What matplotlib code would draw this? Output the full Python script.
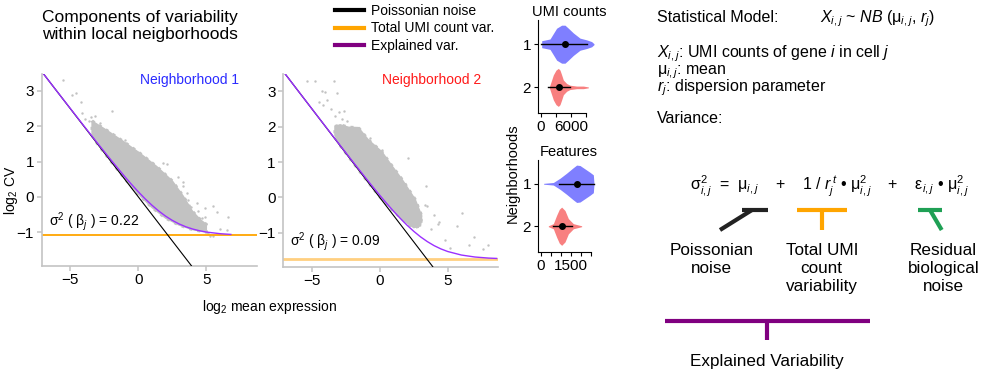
import matplotlib
matplotlib.use('Agg')
import matplotlib.pyplot as plt
import numpy as np
from matplotlib.lines import Line2D

plt.rcParams['font.family'] = ['Liberation Sans', 'DejaVu Sans']
plt.rcParams['mathtext.fontset'] = 'custom'
plt.rcParams['mathtext.rm'] = 'Liberation Sans'
plt.rcParams['mathtext.it'] = 'Liberation Sans:italic'
plt.rcParams['mathtext.default'] = 'regular'

# ---- data ----
# Poissonian noise line endpoints (log2 mean, log2 CV)
pois_x = [-7.1, 3.9]
pois_y = [3.55, -1.95]

# explained variance curves
curve_x1 = [-7.1, -6, -5, -4, -3, -2, -1, -0.5, 0, 0.5, 1, 1.5, 2, 2.5, 3, 3.5, 4, 4.5, 5, 6, 6.8]
curve_y1 = [3.55, 3.0, 2.505, 2.01, 1.52, 1.04, 0.575, 0.354, 0.143, -0.055, -0.237, -0.401,
            -0.545, -0.667, -0.768, -0.849, -0.912, -0.96, -0.997, -1.043, -1.064]
curve_x2 = [-7.1, -6, -5, -4, -3, -2, -1, -0.5, 0, 0.5, 1, 1.5, 2, 2.5, 3, 3.5, 4, 4.5, 5, 6, 7, 8, 8.6]
curve_y2 = [3.55, 3.0, 2.502, 2.004, 1.508, 1.016, 0.532, 0.294, 0.062, -0.164, -0.381, -0.586,
            -0.778, -0.953, -1.109, -1.243, -1.357, -1.449, -1.522, -1.621, -1.677, -1.707, -1.717]

umi_level = [-1.09, -1.74]
beta_var = ['0.22', '0.09']

# dense part of the gene cloud (upper edge left->right, lower edge right->left)
band1_xu = [-3.4, -3.0, -2.3, -1.1, 0.1, 1.35, 2.5, 3.3, 4.0, 4.6, 5.0]
band1_yu = [2.15, 2.05, 1.88, 1.57, 1.24, 0.86, 0.45, 0.02, -0.42, -0.66, -0.78]
band1_xl = [5.0, 4.0, 3.0, 2.0, 1.0, 0.0, -1.0, -2.0, -3.0, -3.4]
band1_yl = [-1.0, -0.93, -0.8, -0.6, -0.3, 0.08, 0.52, 1.0, 1.5, 1.75]

band2_xu = [-3.3, -2.92, -2.3, -1.57, -0.83, 0.15, 0.88, 1.62, 2.6, 3.09]
band2_yu = [2.0, 2.05, 1.98, 1.97, 1.62, 1.29, 0.9, 0.52, -0.05, -0.52]
band2_xl = [3.0, 2.5, 2.0, 1.0, 0.0, -1.0, -2.0, -2.92, -3.3]
band2_yl = [-0.8, -0.85, -0.72, -0.38, 0.02, 0.5, 1.0, 1.47, 1.75]

# scattered genes outside the dense part
out1_x = [-5.5, -4.88, -4.57, -4.22, -4.15, -3.9, -3.6, -3.5, -1.95, -0.98, -0.12, 0.62, 1.83, 2.08,
          3.3, 3.3, 3.67, 4.28, 4.89, 5.5, 6.6, 5.75, 4.9, 4.7, 5.26, 5.5, 5.1, 6.0, 4.4, 3.9, 6.5,
          -3.2, -2.8, 2.9, 3.6]
out1_y = [3.31, 2.89, 2.95, 2.70, 2.37, 2.2, 2.15, 2.25, 2.42, 1.61, 1.28, 0.86, 0.95, 0.93,
          0.43, 0.3, -0.08, -0.18, -0.32, -0.27, -0.56, -0.42, -0.56, -0.6, -1.12, -1.1, -1.02, -0.9,
          -0.4, -0.3, -0.95, 2.3, 2.1, 0.55, 0.1]
out2_x = [-5.37, -4.8, -3.4, -4.26, -4.0, -4.5, -4.2, -3.9, -3.16, -3.3, -3.0, -2.8, -2.6, -0.71,
          0.15, 2.1, 1.84, 3.43, 3.3, 3.5, 4.34, 4.3, 5.15, 6.05, 6.9, 6.6, 7.6, 7.96, 5.66, 4.0,
          3.8, 4.8, -3.6, -2.4, 2.6, 3.0]
out2_y = [3.29, 3.29, 3.29, 3.0, 2.98, 2.7, 2.6, 2.75, 2.95, 2.3, 2.4, 2.2, 2.45, 1.67,
          1.33, 1.1, 0.38, 0.33, -0.2, -0.25, -0.7, -0.75, -1.43, -0.43, -1.11, -1.33, -1.46, -1.33,
          -0.81, -0.5, -0.9, -1.2, 2.5, 2.15, -0.3, -0.6]

# violin outlines: value grid and half width (in neighbourhood-axis units)
umi1_x = [140, 1800, 3130, 4130, 4800, 5470, 6470, 7800, 9130, 10130, 10600]
umi1_w = [0.08, 0.12, 0.37, 0.44, 0.44, 0.37, 0.26, 0.14, 0.10, 0.06, 0.01]
umi2_x = [1670, 2130, 2470, 3000, 3470, 3800, 4130, 4470, 5130, 5800, 7130, 8470, 9470]
umi2_w = [0.01, 0.17, 0.29, 0.40, 0.44, 0.40, 0.29, 0.17, 0.09, 0.05, 0.03, 0.03, 0.01]
feat1_x = [133, 617, 950, 1283, 1617, 1783, 1950, 2200, 2450, 2617, 2650]
feat1_w = [0.01, 0.03, 0.13, 0.25, 0.38, 0.44, 0.43, 0.35, 0.27, 0.21, 0.0]
feat2_x = [367, 617, 783, 917, 1033, 1200, 1367, 1617, 2033]
feat2_w = [0.01, 0.06, 0.26, 0.40, 0.45, 0.37, 0.18, 0.06, 0.01]

umi_range = [(0, 9100), (1400, 5800)]
umi_median = [4800, 3600]
feat_range = [(920, 2650), (615, 1535)]
feat_median = [1785, 1035]

W, H = 1000, 374
fig = plt.figure(figsize=(10, 3.74), dpi=100)

def rect(l, t, r, b):
    return [l / W, 1 - b / H, (r - l) / W, (b - t) / H]

spine_col = '#c4c4c4'
pt_col = '#c2c2c2'

def style_axes(ax):
    for s in ['top', 'right']:
        ax.spines[s].set_visible(False)
    for s in ['left', 'bottom']:
        ax.spines[s].set_color(spine_col)
        ax.spines[s].set_linewidth(1.2)
    ax.tick_params(colors=spine_col, labelcolor='black', labelsize=11, length=3.5, width=1.1, pad=2)

panels = [rect(41.7, 74, 256.7, 265.7), rect(283.3, 74, 498, 266.7)]
bands = [(band1_xu, band1_yu, band1_xl, band1_yl), (band2_xu, band2_yu, band2_xl, band2_yl)]
outs = [(out1_x, out1_y), (out2_x, out2_y)]
curves = [(curve_x1, curve_y1), (curve_x2, curve_y2)]
hood_names = ['Neighborhood 1', 'Neighborhood 2']
hood_cols = ['#2b2bff', '#ff1a1a']
umi_cols = ['#ffa500', '#ffcf80']
umi_lw = [1.3, 2.0]
beta_y = [-0.7, -1.25]

for i in range(2):
    ax = fig.add_axes(panels[i])
    bx = bands[i][0] + bands[i][2]
    by = bands[i][1] + bands[i][3]
    ax.fill(bx, by, color=pt_col, zorder=1)
    ax.fill(bx, by, fc='none', ec=pt_col, lw=2.2, ls=':', zorder=1)
    ax.scatter(outs[i][0], outs[i][1], s=3, color=pt_col, lw=0, zorder=1)
    ax.axhline(umi_level[i], color=umi_cols[i], lw=umi_lw[i], zorder=2)
    ax.plot(pois_x, pois_y, color='black', lw=0.8, zorder=3)
    ax.plot(curves[i][0], curves[i][1], color='#9b30ff', lw=1.0, zorder=4)
    ax.set_xlim(-7.1, 8.7)
    ax.set_ylim(-1.95, 3.48)
    ax.set_xticks([-5, 0, 5])
    ax.set_xticklabels(['\u22125', '0', '5'])
    ax.set_yticks([-1, 0, 1, 2, 3])
    ax.set_yticklabels(['\u22121', '0', '1', '2', '3'])
    style_axes(ax)
    ax.text(0.92, 0.97, hood_names[i], transform=ax.transAxes, ha='right', va='center',
            color=hood_cols[i], fontsize=10)
    ax.text(-6.6, beta_y[i], r'σ$^{2}$ ( β$_{\mathit{j}}$ ) = ' + beta_var[i],
            fontsize=10, va='center', ha='left')

fig.text(11 / W, 1 - 190 / H, r'log$_{2}$ CV', rotation=90, ha='center', va='center', fontsize=10)
fig.text(270 / W, 1 - 307 / H, r'log$_{2}$ mean expression', ha='center', va='center', fontsize=10)
fig.text(140 / W, 1 - 26 / H, 'Components of variability\nwithin local neigborhoods', ha='center',
         va='center', fontsize=12.5, linespacing=1.15)

# legend
handles = [Line2D([], [], color='black', lw=3), Line2D([], [], color='#ffa500', lw=3),
           Line2D([], [], color='#800080', lw=3)]
fig.legend(handles, ['Poissonian noise', 'Total UMI count var.', 'Explained var.'],
           loc='upper left', bbox_to_anchor=(335 / W, 1 - 4 / H), frameon=False, fontsize=10,
           handlelength=2.1, handletextpad=0.5, labelspacing=0.25, borderpad=0, borderaxespad=0)

# violins
def violin_panel(r, title, xs, ws, ranges, medians, xlim, xt, xtl, xmax_tick):
    ax = fig.add_axes(r)
    cols = ['#7f7fff', '#f88080']
    for k in range(2):
        pos = k + 1
        xv = np.array(xs[k])
        wv = np.array(ws[k])
        ax.fill_between(xv, pos - wv, pos + wv, color=cols[k], lw=0)
        ax.plot(ranges[k], [pos, pos], color='black', lw=1.0)
        ax.plot(medians[k], pos, 'o', color='black', ms=4)
    ax.set_xlim(*xlim)
    ax.set_ylim(2.6, 0.44)
    ax.set_yticks([1, 2])
    ax.set_xticks(xt)
    ax.set_xticklabels(xtl)
    style_axes(ax)
    ax.spines['bottom'].set_bounds(xlim[0], xmax_tick)
    for s in ['left', 'bottom']:
        ax.spines[s].set_color('black')
        ax.spines[s].set_linewidth(0.8)
    ax.tick_params(colors='black', length=3, width=0.8)
    ax.set_title(title, fontsize=10.5, pad=3)
    return ax

violin_panel(rect(538, 20, 600, 113.3), 'UMI counts', [umi1_x, umi2_x], [umi1_w, umi2_w],
             umi_range, umi_median, (-600, 11800), [0, 3000, 6000, 9000], ['0', '', '6000', ''], 9000)
violin_panel(rect(538, 160, 600, 251.7), 'Features', [feat1_x, feat2_x], [feat1_w, feat2_w],
             feat_range, feat_median, (-150, 2950), [0, 500, 1000, 1500, 2000, 2500],
             ['0', '', '', '1500', '', ''], 2500)
fig.text(513 / W, 1 - 173 / H, 'Neighborhoods', rotation=90, ha='center', va='center', fontsize=10.5)

# overlay for the model description
ov = fig.add_axes([0, 0, 1, 1], zorder=-1)
ov.set_xlim(0, W)
ov.set_ylim(H, 0)
ov.axis('off')

fs = 11.5
ov.text(657, 22, 'Statistical Model:', fontsize=fs, va='baseline')
ov.text(820, 22, r'$\mathit{X}_{\mathit{i,j}}$ ~ $\mathit{NB}$ (μ$_{\mathit{i,j}}$, $\mathit{r}_{\mathit{j}}$)',
        fontsize=fs, va='baseline')
ov.text(657, 57, r'$\mathit{X}_{\mathit{i,j}}$: UMI counts of gene $\mathit{i}$ in cell $\mathit{j}$', fontsize=fs,
        va='baseline')
ov.text(657, 74, r'μ$_{\mathit{i,j}}$: mean', fontsize=fs, va='baseline')
ov.text(657, 91, r'$\mathit{r}_{\mathit{j}}$: dispersion parameter', fontsize=fs, va='baseline')
ov.text(657, 123, 'Variance:', fontsize=fs, va='baseline')

ov.text(690, 190, r'σ$^{2}_{\mathit{i,j}}$  =  μ$_{\mathit{i,j}}$    +    1 / $\mathit{r}^{\,\mathit{t}}_{\mathit{j}}$ • μ$^{2}_{\mathit{i,j}}$'
        r'    +    ε$_{\mathit{i,j}}$ • μ$^{2}_{\mathit{i,j}}$', fontsize=fs, va='baseline')

blw = 3.0
ov.plot([741.7, 767.7], [210, 210], color='#222222', lw=blw, solid_capstyle='butt')
ov.plot([720, 752], [230, 210], color='#222222', lw=blw, solid_capstyle='butt')
ov.plot([796.7, 846.7], [210, 210], color='#ffa500', lw=blw, solid_capstyle='butt')
ov.plot([821.7, 821.7], [210, 230], color='#ffa500', lw=blw, solid_capstyle='butt')
ov.plot([918.3, 941.7], [210, 210], color='#1fa055', lw=blw, solid_capstyle='butt')
ov.plot([930, 941.7], [210, 230], color='#1fa055', lw=blw, solid_capstyle='butt')
ov.plot([665, 870], [320.7, 320.7], color='#800080', lw=blw, solid_capstyle='butt')
ov.plot([766.7, 766.7], [320.7, 340], color='#800080', lw=blw, solid_capstyle='butt')

fl = 12.3
lab_kw = dict(fontsize=fl, ha='center', va='top', linespacing=1.25)
ov.text(711.7, 243, 'Poissonian\nnoise', **lab_kw)
ov.text(821.7, 243, 'Total UMI\ncount\nvariability', **lab_kw)
ov.text(943.3, 243, 'Residual\nbiological\nnoise', **lab_kw)
ov.text(766.7, 361.7, 'Explained Variability', fontsize=fl, ha='center', va='center')

fig.savefig('out.png', dpi=100)
